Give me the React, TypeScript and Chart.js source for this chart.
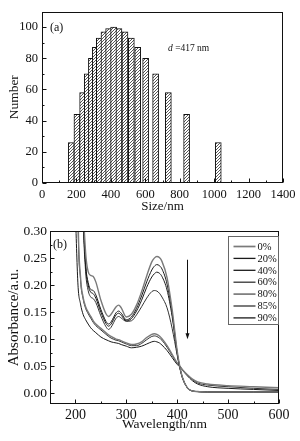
import React, { useEffect, useRef } from "react";
import { Chart, registerables } from "chart.js";
Chart.register(...registerables);

// ---------- (a) size histogram ----------
const sizeNm = [170, 203, 236, 263, 287, 310, 333, 360, 387, 416, 447, 482, 519, 556, 602, 660, 734, 840, 1024];
const sizeCounts = [26, 44, 58, 70, 80, 87, 93, 97, 99, 100, 99, 97, 93, 87, 80, 70, 58, 44, 26];
const sizeTicks = [0, 200, 400, 600, 800, 1000, 1200, 1400];
const sizeMinor = [100, 300, 500, 700, 900, 1100, 1300];
const countTicks = [0, 20, 40, 60, 80, 100];
const countMinor = [10, 30, 50, 70, 90];

// ---------- (b) absorbance spectra ----------
const wavelength = [200, 205, 210, 215, 220, 225, 230, 235, 240, 250, 260, 265, 270, 280, 285, 290, 300, 310, 320, 330, 340, 350, 355, 360, 365, 370, 380, 390, 400, 405, 410, 420, 430, 440, 460, 500, 550, 600];
const abs0 = [1.2, 0.9, 0.6, 0.36, 0.26, 0.225, 0.218, 0.216, 0.206, 0.172, 0.147, 0.142, 0.146, 0.16, 0.163, 0.158, 0.141, 0.146, 0.163, 0.188, 0.217, 0.243, 0.25, 0.253, 0.251, 0.244, 0.214, 0.155, 0.078, 0.05, 0.03, 0.01, 0.004, 0.003, 0.002, 0.002, 0.002, 0.002];
const abs20 = [1.2, 0.9, 0.6, 0.35, 0.24, 0.205, 0.192, 0.19, 0.182, 0.155, 0.133, 0.128, 0.132, 0.149, 0.152, 0.148, 0.136, 0.141, 0.157, 0.18, 0.206, 0.228, 0.235, 0.238, 0.236, 0.23, 0.202, 0.148, 0.075, 0.049, 0.03, 0.01, 0.004, 0.003, 0.002, 0.002, 0.002, 0.002];
const abs40 = [1.2, 0.9, 0.6, 0.34, 0.235, 0.2, 0.187, 0.184, 0.176, 0.15, 0.129, 0.124, 0.128, 0.145, 0.148, 0.144, 0.134, 0.138, 0.152, 0.172, 0.196, 0.215, 0.221, 0.224, 0.222, 0.216, 0.191, 0.142, 0.073, 0.048, 0.029, 0.01, 0.004, 0.003, 0.002, 0.002, 0.002, 0.002];
const abs60 = [1.2, 0.9, 0.6, 0.33, 0.225, 0.19, 0.178, 0.175, 0.168, 0.143, 0.123, 0.118, 0.122, 0.139, 0.142, 0.139, 0.133, 0.134, 0.145, 0.16, 0.176, 0.188, 0.19, 0.189, 0.185, 0.178, 0.158, 0.12, 0.07, 0.047, 0.029, 0.01, 0.004, 0.003, 0.002, 0.002, 0.002, 0.002];
const abs80 = [0.9, 0.34, 0.215, 0.178, 0.16, 0.15, 0.142, 0.134, 0.128, 0.12, 0.112, 0.108, 0.105, 0.1, 0.099, 0.097, 0.093, 0.09, 0.091, 0.095, 0.103, 0.109, 0.11, 0.109, 0.106, 0.101, 0.088, 0.072, 0.056, 0.05, 0.044, 0.034, 0.026, 0.021, 0.017, 0.014, 0.012, 0.01];
const abs85 = [0.9, 0.33, 0.21, 0.175, 0.157, 0.147, 0.139, 0.131, 0.125, 0.117, 0.109, 0.105, 0.102, 0.098, 0.097, 0.095, 0.091, 0.088, 0.088, 0.092, 0.099, 0.105, 0.106, 0.105, 0.102, 0.098, 0.085, 0.07, 0.055, 0.05, 0.044, 0.033, 0.025, 0.019, 0.015, 0.012, 0.009, 0.007];
const abs90 = [0.33, 0.2, 0.165, 0.146, 0.136, 0.128, 0.121, 0.116, 0.112, 0.104, 0.099, 0.097, 0.095, 0.093, 0.092, 0.09, 0.087, 0.084, 0.085, 0.087, 0.091, 0.095, 0.096, 0.095, 0.093, 0.089, 0.079, 0.066, 0.053, 0.049, 0.043, 0.032, 0.023, 0.017, 0.012, 0.009, 0.007, 0.005];
const seriesLabels = ["0%", "20%", "40%", "60%", "80%", "85%", "90%"];
const seriesValues = [abs0, abs20, abs40, abs60, abs80, abs85, abs90];
const seriesColors = ["#7a7a7a", "#1a1a1a", "#1a1a1a", "#333333", "#7a7a7a", "#333333", "#1a1a1a"];
const seriesWidths = [1.4, 1, 1, 1, 1.4, 1, 1];
const waveTicks = [200, 300, 400, 500, 600];
const waveMinor = [250, 350, 450, 550];
const absTicks = [0, 0.05, 0.1, 0.15, 0.2, 0.25, 0.3];
const absMinor = [0.025, 0.075, 0.125, 0.175, 0.225, 0.275];

const FONT = "'Liberation Serif', 'Times New Roman', Times, serif";
const INK = "#111";

function framePlugin(xMajor: number[], xMinor: number[], yMajor: number[], yMinor: number[]) {
  return {
    id: "frameTicks",
    afterDatasetsDraw(chart: any) {
      const { ctx, chartArea: a, scales } = chart;
      const xs = scales.x;
      const ys = scales.y;
      const L = Math.round(a.left) + 0.5;
      const R = Math.round(a.right) - 0.5;
      const T = Math.round(a.top) + 0.5;
      const B = Math.round(a.bottom) - 0.5;
      ctx.save();
      ctx.strokeStyle = INK;
      ctx.lineWidth = 1;
      ctx.strokeRect(L, T, R - L, B - T);
      ctx.beginPath();
      const xt = (vals: number[], len: number) => {
        vals.forEach((v) => {
          const px = Math.round(xs.getPixelForValue(v)) + 0.5;
          ctx.moveTo(px, B);
          ctx.lineTo(px, B - len);
        });
      };
      const yt = (vals: number[], len: number) => {
        vals.forEach((v) => {
          const py = Math.round(ys.getPixelForValue(v)) + 0.5;
          ctx.moveTo(L, py);
          ctx.lineTo(L + len, py);
        });
      };
      xt(xMajor, 4);
      xt(xMinor, 2);
      yt(yMajor, 4);
      yt(yMinor, 2);
      ctx.stroke();
      ctx.restore();
    },
  };
}

const noGrid = { display: false, drawTicks: false, drawOnChartArea: false };

export default function App() {
  const topRef = useRef<HTMLCanvasElement>(null);
  const botRef = useRef<HTMLCanvasElement>(null);

  useEffect(() => {
    document.body.style.margin = "0";
    Chart.defaults.font.family = FONT;
    Chart.defaults.color = INK;

    // hatch pattern for histogram bars
    const pc = document.createElement("canvas");
    pc.width = 3;
    pc.height = 3;
    const p = pc.getContext("2d")!;
    p.fillStyle = "#ffffff";
    p.fillRect(0, 0, 3, 3);
    p.strokeStyle = "#444";
    p.lineWidth = 0.9;
    p.beginPath();
    p.moveTo(0, 3);
    p.lineTo(3, 0);
    p.moveTo(-1, 1);
    p.lineTo(1, -1);
    p.moveTo(2, 4);
    p.lineTo(4, 2);
    p.stroke();
    const hatch = topRef.current!.getContext("2d")!.createPattern(pc, "repeat");

    const topText = {
      id: "topText",
      afterDraw(chart: any) {
        const { ctx, scales } = chart;
        ctx.save();
        ctx.fillStyle = INK;
        ctx.textBaseline = "middle";
        ctx.textAlign = "left";
        ctx.font = `12px ${FONT}`;
        ctx.fillText("(a)", scales.x.getPixelForValue(46), scales.y.getPixelForValue(99.5));
        const x0 = scales.x.getPixelForValue(732);
        const y0 = scales.y.getPixelForValue(86.5);
        ctx.font = `italic 9.5px ${FONT}`;
        ctx.fillText("d", x0, y0);
        const w = ctx.measureText("d ").width;
        ctx.font = `9.5px ${FONT}`;
        ctx.fillText("=417 nm", x0 + w, y0);
        ctx.restore();
      },
    };

    const top = new Chart(topRef.current!, {
      type: "bar",
      data: {
        datasets: [
          {
            data: sizeNm.map((x, i) => ({ x, y: sizeCounts[i] })),
            backgroundColor: hatch as any,
            borderColor: INK,
            borderWidth: 1,
            barThickness: 6,
            borderSkipped: false,
          } as any,
        ],
      },
      options: {
        responsive: false,
        animation: false,
        layout: { padding: { top: 5, right: 17, left: 0, bottom: 0 } },
        plugins: { legend: { display: false }, tooltip: { enabled: false } },
        scales: {
          x: {
            type: "linear",
            min: 0,
            max: 1400,
            offset: false,
            grid: noGrid,
            border: { display: false },
            afterBuildTicks: (s: any) => {
              s.ticks = sizeTicks.map((v) => ({ value: v }));
            },
            afterFit: (s: any) => {
              s.height = 37;
            },
            ticks: { font: { size: 12.5 }, padding: 4, maxRotation: 0, autoSkip: false, color: INK, callback: (v: any) => String(v) },
            title: { display: true, text: "Size/nm", font: { size: 13 }, color: INK, padding: { top: 0, bottom: 6 } },
          },
          y: {
            type: "linear",
            min: 0,
            max: 110,
            grid: noGrid,
            border: { display: false },
            afterBuildTicks: (s: any) => {
              s.ticks = countTicks.map((v) => ({ value: v }));
            },
            afterFit: (s: any) => {
              s.width = 42;
            },
            ticks: { font: { size: 12.5 }, padding: 4, color: INK, callback: (v: any) => String(v) },
            title: { display: true, text: "Number", font: { size: 13.5 }, color: INK, padding: { top: 6, bottom: 0 } },
          },
        },
      } as any,
      plugins: [framePlugin(sizeTicks, sizeMinor, countTicks, countMinor), topText],
    });

    const botExtras = {
      id: "botExtras",
      afterDraw(chart: any) {
        const { ctx, scales, chartArea: a } = chart;
        ctx.save();
        ctx.fillStyle = INK;
        ctx.strokeStyle = INK;
        // (b) label
        ctx.font = `12px ${FONT}`;
        ctx.textBaseline = "middle";
        ctx.textAlign = "left";
        ctx.fillText("(b)", scales.x.getPixelForValue(156), scales.y.getPixelForValue(0.275));
        // arrow
        const ax = Math.round(scales.x.getPixelForValue(420)) + 0.5;
        const ay0 = scales.y.getPixelForValue(0.247);
        const ay1 = scales.y.getPixelForValue(0.1);
        ctx.lineWidth = 1;
        ctx.beginPath();
        ctx.moveTo(ax, ay0);
        ctx.lineTo(ax, ay1 - 5);
        ctx.stroke();
        ctx.beginPath();
        ctx.moveTo(ax - 2, ay1 - 6);
        ctx.lineTo(ax + 2, ay1 - 6);
        ctx.lineTo(ax, ay1);
        ctx.closePath();
        ctx.fill();
        // legend box
        const bw = 50;
        const bh = 88;
        const bx = Math.round(a.right) - bw - 1 + 0.5;
        const by = Math.round(a.top) + 5 + 0.5;
        ctx.fillStyle = "#fff";
        ctx.fillRect(bx, by, bw, bh);
        ctx.strokeStyle = "#666";
        ctx.strokeRect(bx, by, bw, bh);
        ctx.font = `10.5px ${FONT}`;
        seriesLabels.forEach((lab, i) => {
          const yy = by + 10 + i * 11.9;
          ctx.strokeStyle = seriesColors[i];
          ctx.lineWidth = seriesWidths[i] + 0.3;
          ctx.beginPath();
          ctx.moveTo(bx + 5, yy);
          ctx.lineTo(bx + 27, yy);
          ctx.stroke();
          ctx.fillStyle = INK;
          ctx.fillText(lab, bx + 29, yy + 0.5);
        });
        ctx.restore();
      },
    };

    const bot = new Chart(botRef.current!, {
      type: "line",
      data: {
        datasets: seriesValues.map((vals, i) => ({
          label: seriesLabels[i],
          data: wavelength.map((x, j) => ({ x, y: vals[j] })),
          borderColor: seriesColors[i],
          borderWidth: seriesWidths[i],
          pointRadius: 0,
          fill: false,
          cubicInterpolationMode: "monotone",
        })) as any,
      },
      options: {
        responsive: false,
        animation: false,
        layout: { padding: { top: 5, right: 21, left: 0, bottom: 0 } },
        plugins: { legend: { display: false }, tooltip: { enabled: false } },
        scales: {
          x: {
            type: "linear",
            min: 150,
            max: 600,
            grid: noGrid,
            border: { display: false },
            afterBuildTicks: (s: any) => {
              s.ticks = waveTicks.map((v) => ({ value: v }));
            },
            afterFit: (s: any) => {
              s.height = 37;
            },
            ticks: { font: { size: 14 }, padding: 3, maxRotation: 0, autoSkip: false, color: INK, callback: (v: any) => String(v) },
            title: { display: true, text: "Wavelength/nm", font: { size: 13.5 }, color: INK, padding: { top: 0, bottom: 8 } },
          },
          y: {
            type: "linear",
            min: -0.02,
            max: 0.3,
            grid: noGrid,
            border: { display: false },
            afterBuildTicks: (s: any) => {
              s.ticks = absTicks.map((v) => ({ value: v }));
            },
            afterFit: (s: any) => {
              s.width = 50;
            },
            ticks: { font: { size: 13.5 }, padding: 3, color: INK, callback: (v: any) => Number(v).toFixed(2) },
            title: { display: true, text: "Absorbance/a.u.", font: { size: 15 }, color: INK, padding: { top: 5, bottom: 0 } },
          },
        },
      } as any,
      plugins: [framePlugin(waveTicks, waveMinor, absTicks, absMinor), botExtras],
    });

    return () => {
      top.destroy();
      bot.destroy();
    };
  }, []);

  return (
    <div style={{ width: 300, height: 441, background: "#fff", position: "relative" }}>
      <canvas ref={topRef} width={300} height={220} style={{ display: "block", width: 300, height: 220 }} />
      <canvas ref={botRef} width={300} height={221} style={{ display: "block", width: 300, height: 221 }} />
    </div>
  );
}
